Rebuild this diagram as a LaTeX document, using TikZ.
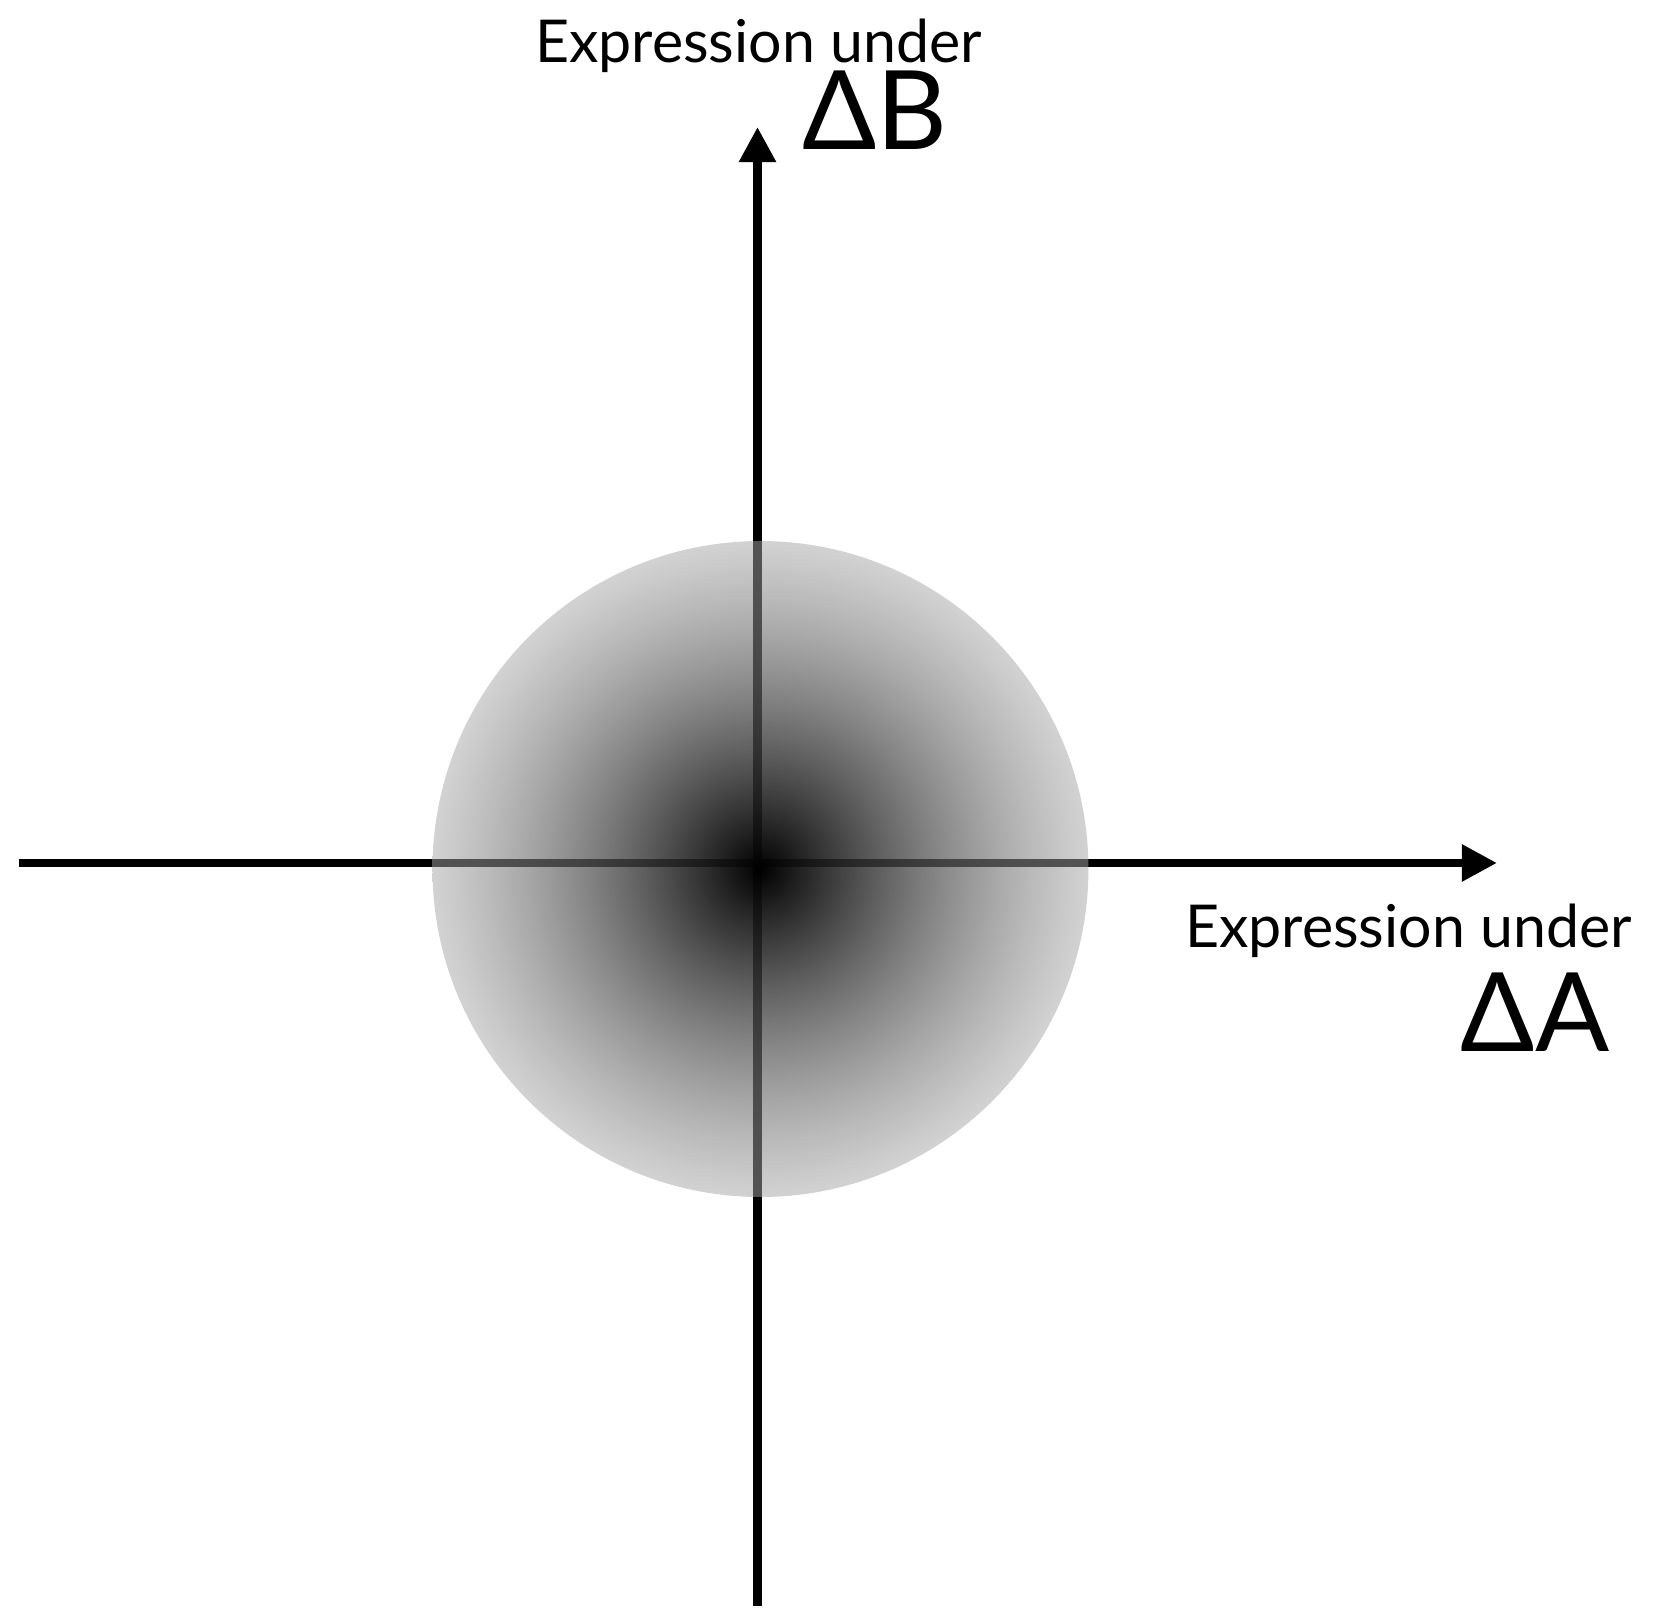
\documentclass[tikz,border=0pt]{standalone}
\usepackage{fontspec}
\setmainfont{Lato}
\usepackage{tikz}
\usetikzlibrary{arrows.meta,positioning,calc,fadings}

\tikzfading[name=blobfade, inner color=transparent!0, outer color=transparent!50]

\begin{document}
\begin{tikzpicture}[x=0.01cm, y=0.01cm,
    ax/.style={line width=2.4pt, -{Triangle[length=10pt, width=10pt]}},
    lbl/.style={font=\fontsize{16.8}{19}\selectfont, inner sep=0pt, anchor=base},
    big/.style={font=\fontsize{31.2}{34}\selectfont, inner sep=0pt, anchor=base}]
  \useasboundingbox (0,0) rectangle (1654,1619);
  % axes
  \coordinate (xl) at (19,756);
  \coordinate (xr) at (1497,756);
  \coordinate (yb) at (757.5,13);
  \coordinate (yt) at (757.5,1492);
  \draw[ax] (xl) -- (xr);
  \draw[ax] (yb) -- (yt);
  % spread of the expression
  \coordinate (c) at (760.5,750);
  \shade[inner color=black, outer color=black!35, path fading=blobfade] (c) circle (328);
  % labels
  \node[lbl] (ylab) at (758.5,1556) {Expression under};
  \node[big] (ydel) at (875,1469) {ΔB};
  \node[lbl] (xlab) at (1408.5,671) {Expression under};
  \node[big] (xdel) at (1535,567) {ΔA};
\end{tikzpicture}
\end{document}
